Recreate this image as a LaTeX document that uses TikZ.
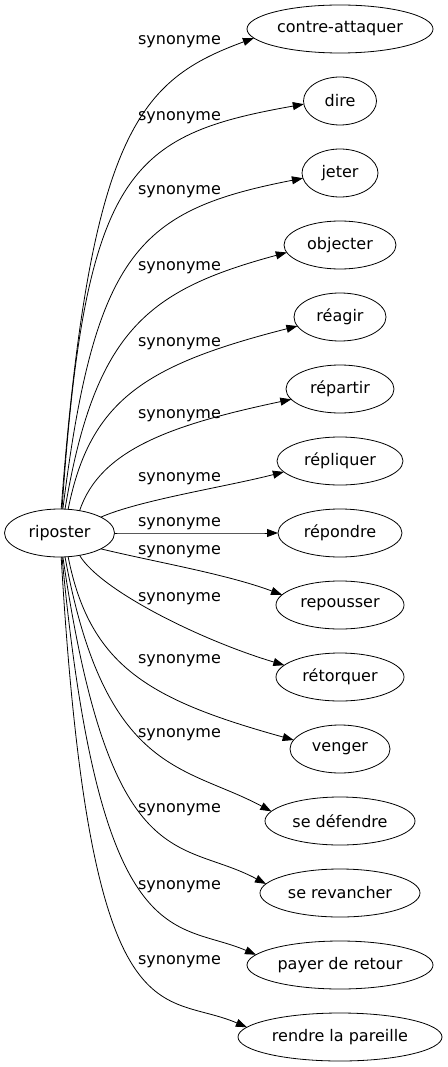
\documentclass[tikz,border=0pt]{standalone}
\usepackage{fontspec}
\setmainfont{DejaVu Sans}
\usetikzlibrary{arrows.meta, shapes.geometric}

\tikzset{
  word/.style={draw, ellipse, line width=0.8pt, inner sep=0pt, outer sep=0pt,
    minimum height=48pt, font=\fontsize{16}{19}\selectfont},
  syn/.style={line width=0.8pt, -{Triangle[length=11pt, width=8pt]}},
  synlabel/.style={inner sep=0pt, font=\fontsize{16}{19}\selectfont},
}

\begin{document}
\begin{tikzpicture}[x=1pt, y=-1pt]
    \useasboundingbox (0,0) rectangle (447,1067);

    % The source word
    \node[word, minimum width=110pt] (rip) at (59.5,533) {riposter};

    % The synonyms, one per row
    \foreach \name/\txt/\yy/\ww in {
        contre/contre-attaquer/29/186, dire/dire/101/73, jeter/jeter/173/76,
        objecter/objecter/245/112, reagir/réagir/317/92, repartir/répartir/389/108,
        repliquer/répliquer/461/126, repondre/répondre/533/124,
        repousser/repousser/605/128, retorquer/rétorquer/677/128,
        venger/venger/749/100, defendre/se défendre/821/150,
        revancher/se revancher/893/160, payer/payer de retour/965/186,
        rendre/rendre la pareille/1037/204} {
      \node[word, minimum width=\ww pt] (\name) at (340,\yy) {\txt};
    }

    % The edges and their labels
    \foreach \name/\sa/\ea/\ax/\ay/\bx/\by/\ly in {
        contre/86/186/90/130/140/80/42,
        dire/84/185/85/170/130/135/118,
        jeter/82/188/95/250/140/210/192,
        objecter/77/188/95/330/148/290/268,
        reagir/70/192/90/400/145/365/344,
        repartir/48/192/100/450/170/425/416,
        repliquer/21/191/140/500/225/487/479,
        repondre/0/180/170/533/220/533/524,
        repousser/339/170/160/563/226/574/552,
        retorquer/312/168/100/590/200/640/599,
        venger/290/169/90/667/150/700/661,
        defendre/283/172/105/775/185/765/735,
        revancher/278/173/110/880/180/838/810,
        payer/276/173/100/960/175/920/887,
        rendre/274/174/90/1050/160/990/962} {
      \draw[syn] (rip.\sa) .. controls (\ax,\ay) and (\bx,\by) .. (\name.\ea);
      \node[synlabel] (lab-\name) at (179.5,\ly) {synonyme};
    }

\end{tikzpicture}
\end{document}
